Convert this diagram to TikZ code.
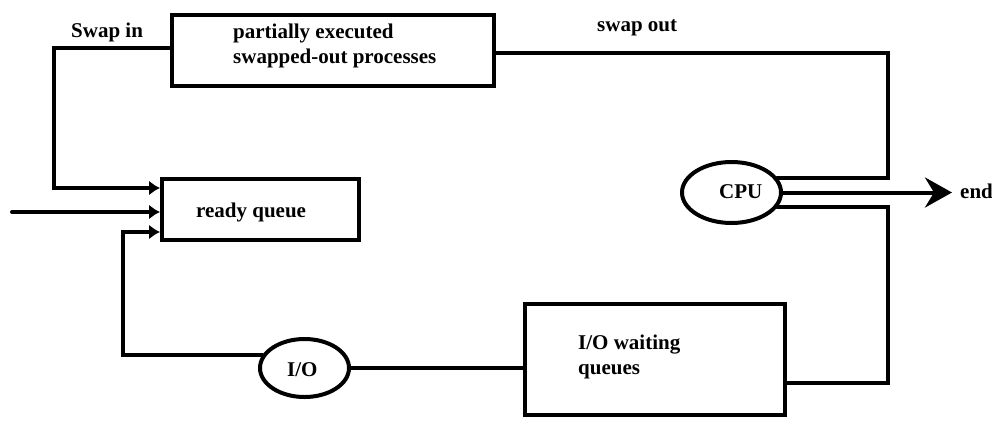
\documentclass[tikz,border=0pt]{standalone}
\usepackage{fontspec}
\setmainfont{Liberation Serif}
\usetikzlibrary{arrows.meta,shapes.geometric}
\begin{document}
\begin{tikzpicture}[x=1pt,y=-1pt,
  every node/.style={font=\fontsize{21}{25}\selectfont\bfseries},
  box/.style={draw, line width=4pt, rectangle, inner sep=0pt},
  oval/.style={draw, line width=4pt, ellipse, inner sep=0pt},
  lbl/.style={inner sep=0pt, anchor=base west},
  wire/.style={line width=4pt, line cap=round},
  feed/.style={wire, -{Latex[length=11pt,width=15pt]}},
  exit/.style={wire, -{Stealth[length=27pt,width=30pt,inset=9pt]}}
]
\useasboundingbox (0,0) rectangle (992,421);

% boxes and ovals
\node[box, minimum width=322pt, minimum height=71pt] (swap) at (333,50.5) {};
\node[box, minimum width=197pt, minimum height=61pt] (ready) at (260.5,209.5) {};
\node[box, minimum width=260pt, minimum height=111pt] (iowait) at (655,359.5) {};
\node[oval, minimum width=99pt, minimum height=61pt] (cpu) at (731.5,192.5) {};
\node[oval, minimum width=89pt, minimum height=58pt] (io) at (304.5,368) {};

% texts
\node[lbl] (swapin) at (71,37) {Swap in};
\node[lbl] (swapout) at (597,31) {swap out};
\node[lbl] (swaptxta) at (233,38) {partially executed};
\node[lbl] (swaptxtb) at (233,63) {swapped-out processes};
\node[lbl] (readytxt) at (196,217) {ready queue};
\node[lbl] (cputxt) at (719,198) {CPU};
\node[lbl] (iotxt) at (287,376) {I/O};
\node[lbl] (waittxta) at (578,349) {I/O waiting};
\node[lbl] (waittxtb) at (578,374) {queues};
\node[lbl] (endtxt) at (960,198) {end};

% corner points of the connectors
\coordinate (src) at (12,212);
\coordinate (sia) at (54,48);
\coordinate (sib) at (54,188);
\coordinate (soa) at (888,53);
\coordinate (iob) at (888,383);
\coordinate (ioin) at (123,232);

% new processes enter the ready queue
\draw[feed] (src) -- (src -| ready.west);
% swap in
\draw[feed] (swap.west |- sia) -- (sia) -- (sib) -- (sib -| ready.west);
% back from I/O
\draw[feed] (io.163) -| (ioin) -- (ioin -| ready.west);
% swap out
\draw[wire] (cpu.18) -| (soa) -- (soa -| swap.east);
% CPU to I/O waiting queues
\draw[wire] (cpu.-18) -| (iob) -- (iob -| iowait.east);
% I/O waiting queues to I/O
\draw[wire] (io.east) -- (io.east -| iowait.west);
% finished processes
\draw[exit] (cpu.east) -- ([xshift=-8pt]cpu.east -| endtxt.west);
\end{tikzpicture}
\end{document}
